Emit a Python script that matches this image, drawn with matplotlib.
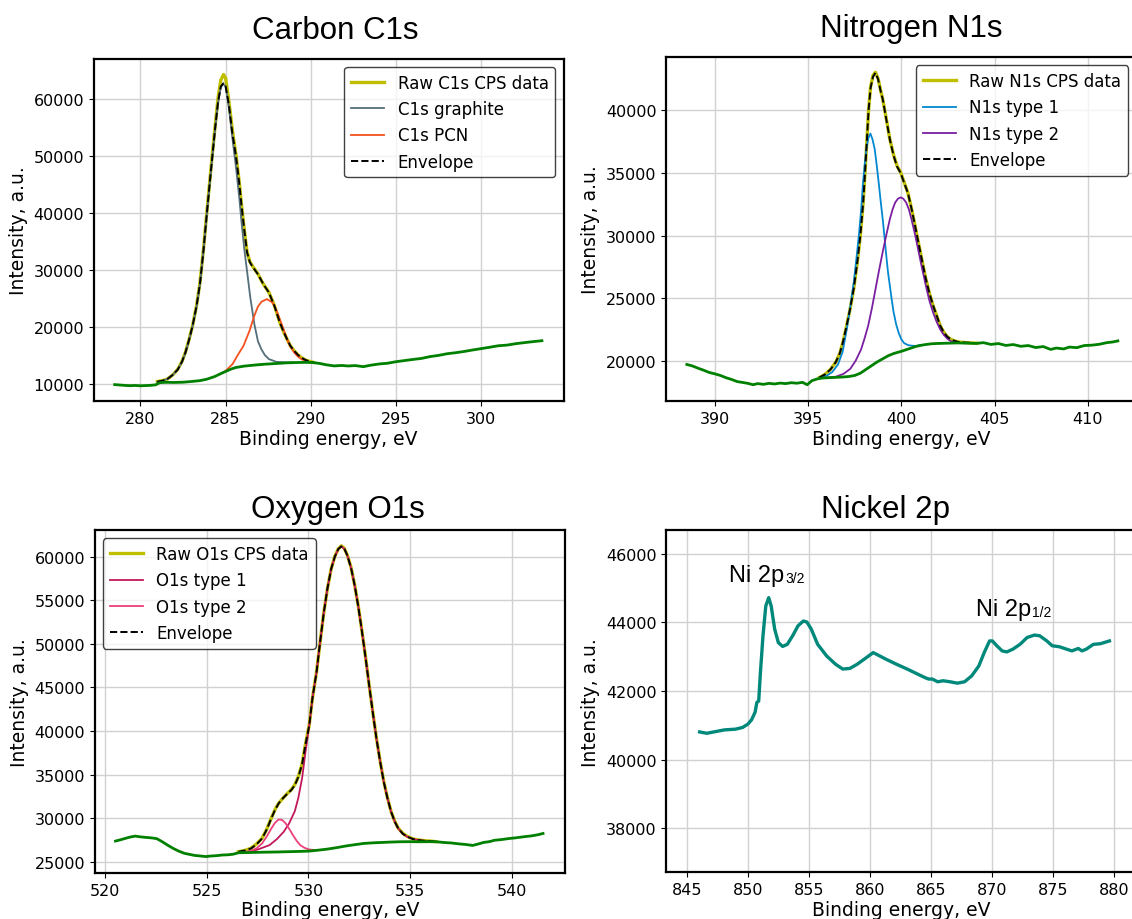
import matplotlib
matplotlib.use("Agg")
import matplotlib.pyplot as plt
from matplotlib.ticker import MultipleLocator

# ---------------- Carbon C1s ----------------
c1s_bg_energy = [278.5, 278.8, 279.1, 279.4, 279.7, 280.0, 280.3, 280.6, 280.9, 281.15,
                 281.5, 282.0, 282.5, 283.0, 283.5, 283.9, 284.35, 284.7, 285.0, 285.3,
                 285.6, 286.1, 286.7, 287.3, 287.97, 288.6, 289.25, 289.7, 290.1, 290.5,
                 290.9, 291.37, 291.8, 292.2, 292.6, 293.08, 293.5, 294.0, 294.5, 295.0,
                 295.5, 296.0, 296.5, 297.0, 297.5, 298.0, 298.5, 299.0, 299.5, 300.0,
                 300.5, 301.0, 301.5, 302.0, 302.5, 303.0, 303.55]
c1s_bg = [9900, 9830, 9760, 9710, 9750, 9690, 9730, 9770, 9860, 10250,
          10300, 10280, 10320, 10450, 10600, 10850, 11300, 11800, 12200, 12600,
          12900, 13150, 13330, 13480, 13600, 13720, 13780, 13800, 13780, 13620,
          13380, 13180, 13260, 13170, 13240, 13050, 13300, 13520, 13650, 13920,
          14120, 14320, 14500, 14820, 15030, 15320, 15500, 15720, 15980, 16220,
          16460, 16720, 16830, 17070, 17260, 17430, 17600]

c1s_energy = [281.0, 281.3, 281.6, 281.9, 282.2, 282.45, 282.65, 282.85, 283.07, 283.3,
              283.5, 283.7, 283.9, 284.07, 284.24, 284.4, 284.56, 284.72, 284.88, 285.0,
              285.2, 285.4, 285.62, 285.8, 285.94, 286.1, 286.26, 286.42, 286.58, 286.9,
              287.22, 287.54, 287.86, 288.18, 288.4, 288.6, 288.8, 289.03, 289.25, 289.46,
              289.7, 289.9, 290.15]
c1s_raw = [10450, 10600, 10900, 11600, 12600, 14000, 15600, 17700, 20300, 23800,
           27800, 33500, 40100, 45500, 50800, 55600, 60200, 63300, 64300, 63700,
           59500, 54500, 50000, 45500, 41300, 37000, 33200, 31500, 30700, 29300,
           27500, 26100, 23800, 20800, 19200, 17900, 16700, 15800, 15100, 14600,
           14200, 14000, 13800]
c1s_envelope = [10400, 10580, 10900, 11600, 12550, 13950, 15550, 17650, 20250, 23700,
                27600, 33300, 39800, 45200, 50400, 55200, 59500, 62200, 62750, 62300,
                58900, 54000, 49800, 45300, 41200, 37000, 33100, 31400, 30600, 29250,
                27500, 26050, 23750, 20800, 19200, 17900, 16700, 15800, 15100, 14600,
                14200, 14000, 13800]

c1s_graphite_energy = [281.0, 281.3, 281.6, 281.9, 282.2, 282.45, 282.65, 282.85, 283.07,
                       283.3, 283.5, 283.7, 283.9, 284.07, 284.24, 284.4, 284.56, 284.72,
                       284.85, 285.0, 285.2, 285.4, 285.62, 285.8, 285.94, 286.1, 286.26,
                       286.45, 286.69, 286.9, 287.1, 287.3, 287.54, 287.97, 288.6, 289.0]
c1s_graphite = [10400, 10550, 10900, 11600, 12550, 13900, 15500, 17600, 20200,
                23600, 27500, 33200, 39700, 45000, 50200, 55000, 59300, 62000,
                62700, 62200, 58400, 53200, 47800, 42800, 38300, 33600, 29800,
                25200, 20500, 17500, 16100, 15100, 14380, 13900, 13800, 13800]

c1s_pcn_energy = [284.7, 285.0, 285.41, 285.7, 286.05, 286.4, 286.69, 286.9, 287.11, 287.43,
                  287.75, 287.95, 288.18, 288.4, 288.6, 288.8, 289.03, 289.25, 289.46, 289.7,
                  289.88, 290.1]
c1s_pcn = [11750, 12300, 13500, 15000, 16700, 19300, 22000, 23600, 24450, 24900,
           24300, 23200, 21400, 19600, 17900, 16600, 15500, 14800, 14350, 14050,
           13900, 13800]

# ---------------- Nitrogen N1s ----------------
n1s_bg_energy = [388.5, 388.8, 389.1, 389.4, 389.7, 390.0, 390.3, 390.6, 390.9, 391.2,
                 391.5, 391.8, 392.05, 392.3, 392.6, 392.9, 393.2, 393.5, 393.8, 394.1,
                 394.4, 394.7, 394.95, 395.2, 395.5, 395.8, 396.1, 396.5, 396.9, 397.2,
                 397.5, 397.8, 398.1, 398.4, 398.7, 399.0, 399.3, 399.6, 400.0, 400.4,
                 400.8, 401.2, 401.6, 402.0, 402.5, 403.0, 403.5, 404.0, 404.4, 404.8,
                 405.2, 405.6, 406.0, 406.4, 406.8, 407.2, 407.6, 408.0, 408.3, 408.7,
                 409.0, 409.4, 409.8, 410.2, 410.6, 411.0, 411.3, 411.6]
n1s_bg = [19700, 19580, 19400, 19240, 19060, 18950, 18820, 18640, 18500, 18330,
          18260, 18180, 18080, 18170, 18110, 18190, 18140, 18210, 18170, 18240,
          18200, 18270, 18080, 18400, 18550, 18620, 18640, 18670, 18700, 18740,
          18820, 19000, 19300, 19600, 19900, 20150, 20400, 20580, 20750, 20950,
          21150, 21270, 21350, 21380, 21400, 21420, 21400, 21380, 21440, 21300,
          21370, 21220, 21290, 21150, 21210, 21050, 21130, 20900, 21010, 20940,
          21090, 21040, 21210, 21240, 21310, 21440, 21490, 21580]

n1s_energy = [395.6, 395.9, 396.2, 396.49, 396.7, 396.87, 397.05, 397.26, 397.45, 397.64,
              397.8, 397.95, 398.05, 398.15, 398.24, 398.35, 398.48, 398.61, 398.75, 398.88,
              399.0, 399.2, 399.38, 399.58, 399.77, 399.96, 400.15, 400.35, 400.55, 400.73,
              400.93, 401.12, 401.3, 401.5, 401.7, 401.89, 402.08, 402.28, 402.47, 402.66,
              402.86, 403.05, 403.44, 403.8, 404.05]
n1s_raw = [18650, 18900, 19300, 19900, 20600, 21500, 22700, 24200, 25800, 27900,
           30000, 32600, 35000, 37600, 40000, 41900, 42800, 43050, 42550, 41650,
           40900, 39250, 37700, 36450, 35550, 35050, 34250, 33400, 32100, 30800,
           29300, 27900, 26600, 25400, 24400, 23600, 22800, 22250, 21900, 21700,
           21580, 21500, 21450, 21420, 21400]
n1s_envelope = [18650, 18900, 19300, 19900, 20600, 21500, 22700, 24200, 25800, 27900,
                30000, 32600, 35000, 37600, 40000, 41800, 42700, 43000, 42500, 41600,
                40900, 39200, 37700, 36400, 35500, 35000, 34200, 33400, 32100, 30800,
                29300, 27900, 26600, 25400, 24400, 23600, 22800, 22250, 21900, 21700,
                21580, 21500, 21450, 21420, 21400]

n1s_type1_energy = [395.6, 396.0, 396.3, 396.6, 396.85, 397.07, 397.26, 397.45, 397.6, 397.74,
                    397.85, 397.93, 398.03, 398.12, 398.23, 398.34, 398.45, 398.57, 398.68,
                    398.8, 398.9, 399.0, 399.1, 399.19, 399.28, 399.38, 399.48, 399.58, 399.72,
                    399.86, 400.0, 400.15, 400.35, 400.54, 400.8, 401.0]
n1s_type1 = [18650, 18800, 19100, 19700, 20700, 22500, 24300, 26300, 28300, 30300,
             32200, 34000, 35600, 36900, 37800, 38150, 37700, 36900, 35600,
             34000, 32600, 31300, 29800, 28400, 27100, 26000, 24900, 23900, 22900,
             22200, 21700, 21400, 21250, 21200, 21180, 21250]

n1s_type2_energy = [396.0, 396.49, 396.9, 397.26, 397.55, 397.84, 398.03, 398.22, 398.42, 398.61,
                    398.8, 399.0, 399.2, 399.38, 399.53, 399.67, 399.82, 399.96, 400.1, 400.25,
                    400.4, 400.54, 400.73, 400.93, 401.12, 401.31, 401.5, 401.7, 401.89, 402.08,
                    402.28, 402.47, 402.66, 402.86, 403.1, 403.44]
n1s_type2 = [18650, 18720, 18950, 19350, 20000, 20900, 21800, 22800, 24200, 25700,
             27200, 28700, 30100, 31300, 32100, 32650, 32950, 33050, 32950, 32650,
             32100, 31300, 30100, 28650, 27300, 26000, 24800, 23850, 23100, 22500,
             22050, 21750, 21550, 21450, 21420, 21410]

# ---------------- Oxygen O1s ----------------
o1s_bg_energy = [520.5, 520.75, 520.93, 521.2, 521.47, 521.7, 522.0, 522.3, 522.54, 522.8,
                 523.07, 523.35, 523.61, 523.9, 524.15, 524.4, 524.68, 524.95, 525.22, 525.5,
                 525.76, 526.0, 526.29, 526.56, 527.0, 527.5, 528.0, 528.5, 529.0, 529.5,
                 530.04, 530.5, 530.94, 531.4, 531.83, 532.3, 532.73, 533.2, 533.62, 534.1,
                 534.51, 535.0, 535.41, 535.9, 536.3, 536.7, 537.0, 537.4, 537.73, 538.09,
                 538.4, 538.62, 538.9, 539.16, 539.5, 539.87, 540.2, 540.59, 541.0, 541.3,
                 541.55]
o1s_bg = [27370, 27520, 27640, 27820, 27940, 27860, 27790, 27730, 27640, 27300,
          26900, 26520, 26220, 25960, 25840, 25720, 25660, 25590, 25660, 25700,
          25770, 25790, 25860, 26030, 26050, 26080, 26100, 26120, 26150, 26180,
          26220, 26330, 26450, 26620, 26800, 26960, 27100, 27170, 27210, 27260,
          27290, 27300, 27290, 27300, 27290, 27200, 27160, 27050, 26980, 26870,
          27060, 27210, 27300, 27460, 27540, 27660, 27740, 27860, 27970, 28100,
          28240]

o1s_energy = [526.56, 526.9, 527.18, 527.45, 527.72, 527.95, 528.17, 528.35, 528.53, 528.75,
              528.97, 529.15, 529.33, 529.5, 529.69, 529.85, 530.04, 530.2, 530.4, 530.58,
              530.76, 530.94, 531.12, 531.3, 531.47, 531.62, 531.77, 531.92, 532.1, 532.28,
              532.46, 532.64, 532.82, 532.99, 533.17, 533.35, 533.53, 533.71, 533.89, 534.07,
              534.25, 534.42, 534.65, 534.87, 535.15, 535.41, 535.7, 535.94, 536.3]
o1s_raw = [26150, 26320, 26560, 27050, 27700, 28750, 30000, 30950, 31700, 32300,
           32850, 33250, 33850, 34750, 36250, 38450, 40700, 43800, 46800, 50300,
           53650, 56400, 58600, 60050, 60900, 61250, 60950, 60150, 58750, 56700,
           54250, 51400, 48350, 45250, 42150, 39150, 36550, 34200, 32350, 30750,
           29650, 28850, 28250, 27900, 27620, 27500, 27420, 27380, 27300]
o1s_envelope = [26150, 26300, 26530, 27000, 27670, 28700, 29960, 30900, 31680, 32300,
                32820, 33200, 33780, 34700, 36200, 38400, 40650, 43800, 46760, 50300,
                53630, 56400, 58590, 60000, 60880, 61180, 60900, 60110, 58700, 56680,
                54200, 51340, 48300, 45230, 42100, 39120, 36500, 34160, 32300, 30730,
                29600, 28820, 28200, 27860, 27600, 27480, 27400, 27370, 27290]

o1s_type1_energy = [527.0, 527.5, 528.08, 528.45, 528.79, 529.05, 529.33, 529.5, 529.69, 529.85,
                    530.04, 530.2, 530.4, 530.58, 530.76, 530.94, 531.12, 531.3, 531.47, 531.62,
                    531.77, 531.92, 532.1, 532.28, 532.46, 532.64, 532.82, 532.99, 533.17, 533.35,
                    533.53, 533.71, 533.89, 534.07, 534.25, 534.42, 534.65, 534.87, 535.15, 535.41,
                    535.7, 535.94, 536.3]
o1s_type1 = [26100, 26400, 26900, 27600, 28450, 29400, 30800, 32300, 34600, 37500,
             40650, 43800, 46760, 50300, 53630, 56400, 58590, 60000, 60880, 61180,
             60900, 60110, 58700, 56680, 54200, 51340, 48300, 45230, 42100, 39120,
             36500, 34160, 32300, 30730, 29600, 28820, 28200, 27860, 27600, 27480,
             27400, 27370, 27290]

o1s_type2_energy = [526.9, 527.18, 527.45, 527.72, 527.95, 528.17, 528.35, 528.53, 528.7, 528.88,
                    529.06, 529.24, 529.42, 529.6, 529.8, 530.04, 530.3]
o1s_type2 = [26150, 26250, 26550, 27100, 27900, 28800, 29450, 29850, 29800, 29400,
             28750, 28050, 27400, 26900, 26600, 26400, 26350]

# ---------------- Nickel 2p ----------------
ni_energy = [846.03, 846.61, 847.2, 848.08, 848.96, 849.55, 849.99, 850.28, 850.57, 850.72,
             850.87, 851.01, 851.22, 851.45, 851.69, 851.89, 852.18, 852.48, 852.83, 853.21,
             853.65, 854.09, 854.53, 854.82, 855.18, 855.7, 856.44, 857.17, 857.76, 858.34,
             858.93, 859.52, 860.25, 860.69, 861.28, 862.16, 863.04, 863.91, 864.5, 864.79,
             865.09, 865.53, 865.97, 866.55, 867.14, 867.73, 868.31, 868.9, 869.34, 869.78,
             870.01, 870.37, 870.81, 871.19, 871.69, 872.27, 872.86, 873.45, 873.89, 874.47,
             874.91, 875.5, 876.09, 876.52, 877.05, 877.35, 877.7, 878.28, 878.87, 879.6]
ni_counts = [40810, 40770, 40810, 40870, 40890, 40940, 41040, 41160, 41380, 41670,
             41710, 42540, 43610, 44480, 44720, 44480, 43800, 43410, 43300, 43360,
             43610, 43900, 44040, 44010, 43800, 43360, 43020, 42780, 42640, 42660,
             42780, 42930, 43120, 43040, 42930, 42780, 42640, 42490, 42390, 42350,
             42350, 42270, 42300, 42270, 42230, 42270, 42440, 42730, 43120, 43460,
             43460, 43320, 43170, 43140, 43220, 43360, 43560, 43630, 43610, 43460,
             43320, 43290, 43220, 43170, 43240, 43170, 43220, 43360, 43380, 43460]

# peak annotations: main text, subscript, energy, intensity
ni_peak_labels = [("Ni 2p", "3/2", 848.45, 45200), ("Ni 2p", "1/2", 868.65, 44210)]

RAW_COLOR = "#bfbf00"
BG_COLOR = "#008000"

plt.rcParams.update({
    "font.family": ["DejaVu Sans"],
    "axes.linewidth": 1.6,
    "xtick.labelsize": 11.5,
    "ytick.labelsize": 11.5,
    "axes.labelsize": 13.5,
    "legend.fontsize": 12,
})

fig = plt.figure(figsize=(11.32, 9.2), dpi=100)
ax_c = fig.add_axes([0.0828, 0.5630, 0.4152, 0.3721])
ax_n = fig.add_axes([0.5886, 0.5630, 0.4152, 0.3739])
ax_o = fig.add_axes([0.0837, 0.0500, 0.4152, 0.3728])
ax_ni = fig.add_axes([0.5886, 0.0507, 0.4152, 0.3721])

title_font = dict(family=["Liberation Sans", "DejaVu Sans"], fontsize=22.5)


def style(ax):
    ax.grid(True, color="0.82", linewidth=1.0)
    ax.set_axisbelow(True)
    ax.set_xlabel("Binding energy, eV", labelpad=2)
    ax.set_ylabel("Intensity, a.u.")
    ax.tick_params(direction="out", length=3.5, width=0.8)


def legend(ax, loc):
    leg = ax.legend(loc=loc, fancybox=True, edgecolor="black", framealpha=0.75)
    leg.get_frame().set_linewidth(1.0)


# Carbon
ax_c.plot(c1s_energy, c1s_raw, color=RAW_COLOR, lw=2.4, label="Raw C1s CPS data")
ax_c.plot(c1s_graphite_energy, c1s_graphite, color="#546e7a", lw=1.3, label="C1s graphite")
ax_c.plot(c1s_pcn_energy, c1s_pcn, color="#f4511e", lw=1.3, label="C1s PCN")
ax_c.plot(c1s_energy, c1s_envelope, "k--", lw=1.4, label="Envelope")
ax_c.plot(c1s_bg_energy, c1s_bg, color=BG_COLOR, lw=2.0)
ax_c.set_xlim(277.27, 304.83)
ax_c.set_ylim(7018, 67070)
ax_c.xaxis.set_major_locator(MultipleLocator(5))
ax_c.yaxis.set_major_locator(MultipleLocator(10000))
ax_c.set_title("Carbon C1s", x=0.513, pad=15, **title_font)
style(ax_c)
legend(ax_c, "upper right")

# Nitrogen
ax_n.plot(n1s_energy, n1s_raw, color=RAW_COLOR, lw=2.4, label="Raw N1s CPS data")
ax_n.plot(n1s_type1_energy, n1s_type1, color="#0288d1", lw=1.3, label="N1s type 1")
ax_n.plot(n1s_type2_energy, n1s_type2, color="#7b1fa2", lw=1.3, label="N1s type 2")
ax_n.plot(n1s_energy, n1s_envelope, "k--", lw=1.4, label="Envelope")
ax_n.plot(n1s_bg_energy, n1s_bg, color=BG_COLOR, lw=2.0)
ax_n.set_xlim(387.4, 412.59)
ax_n.set_ylim(16776, 44264)
ax_n.xaxis.set_major_locator(MultipleLocator(5))
ax_n.yaxis.set_major_locator(MultipleLocator(5000))
ax_n.set_title("Nitrogen N1s", x=0.522, pad=15, **title_font)
style(ax_n)
legend(ax_n, "upper right")

# Oxygen
ax_o.plot(o1s_energy, o1s_raw, color=RAW_COLOR, lw=2.4, label="Raw O1s CPS data")
ax_o.plot(o1s_type1_energy, o1s_type1, color="#c2185b", lw=1.3, label="O1s type 1")
ax_o.plot(o1s_type2_energy, o1s_type2, color="#ec407a", lw=1.3, label="O1s type 2")
ax_o.plot(o1s_energy, o1s_envelope, "k--", lw=1.4, label="Envelope")
ax_o.plot(o1s_bg_energy, o1s_bg, color=BG_COLOR, lw=2.0)
ax_o.set_xlim(519.48, 542.62)
ax_o.set_ylim(23706, 63057)
ax_o.xaxis.set_major_locator(MultipleLocator(5))
ax_o.yaxis.set_major_locator(MultipleLocator(5000))
ax_o.set_title("Oxygen O1s", x=0.517, pad=9.3, **title_font)
style(ax_o)
legend(ax_o, "upper left")

# Nickel
ax_ni.plot(ni_energy, ni_counts, color="#00897b", lw=2.4)
ax_ni.set_xlim(843.3, 881.8)
ax_ni.set_ylim(36720, 46690)
ax_ni.xaxis.set_major_locator(MultipleLocator(5))
ax_ni.yaxis.set_major_locator(MultipleLocator(2000))
ax_ni.set_title("Nickel 2p", x=0.467, pad=9.6, **title_font)
style(ax_ni)

peak_font = dict(family=["Liberation Sans", "DejaVu Sans"])
for label, sub, e, i in ni_peak_labels:
    t = ax_ni.text(e, i, label, fontsize=17, va="baseline", ha="left", **peak_font)
    # subscript placed just after the main text, sitting on its baseline
    ax_ni.annotate(sub, xy=(1, 0), xycoords=t, xytext=(0.6, 3.0),
                   textcoords="offset points", fontsize=10, va="baseline", ha="left",
                   **peak_font)

fig.savefig("out.png", dpi=100)
